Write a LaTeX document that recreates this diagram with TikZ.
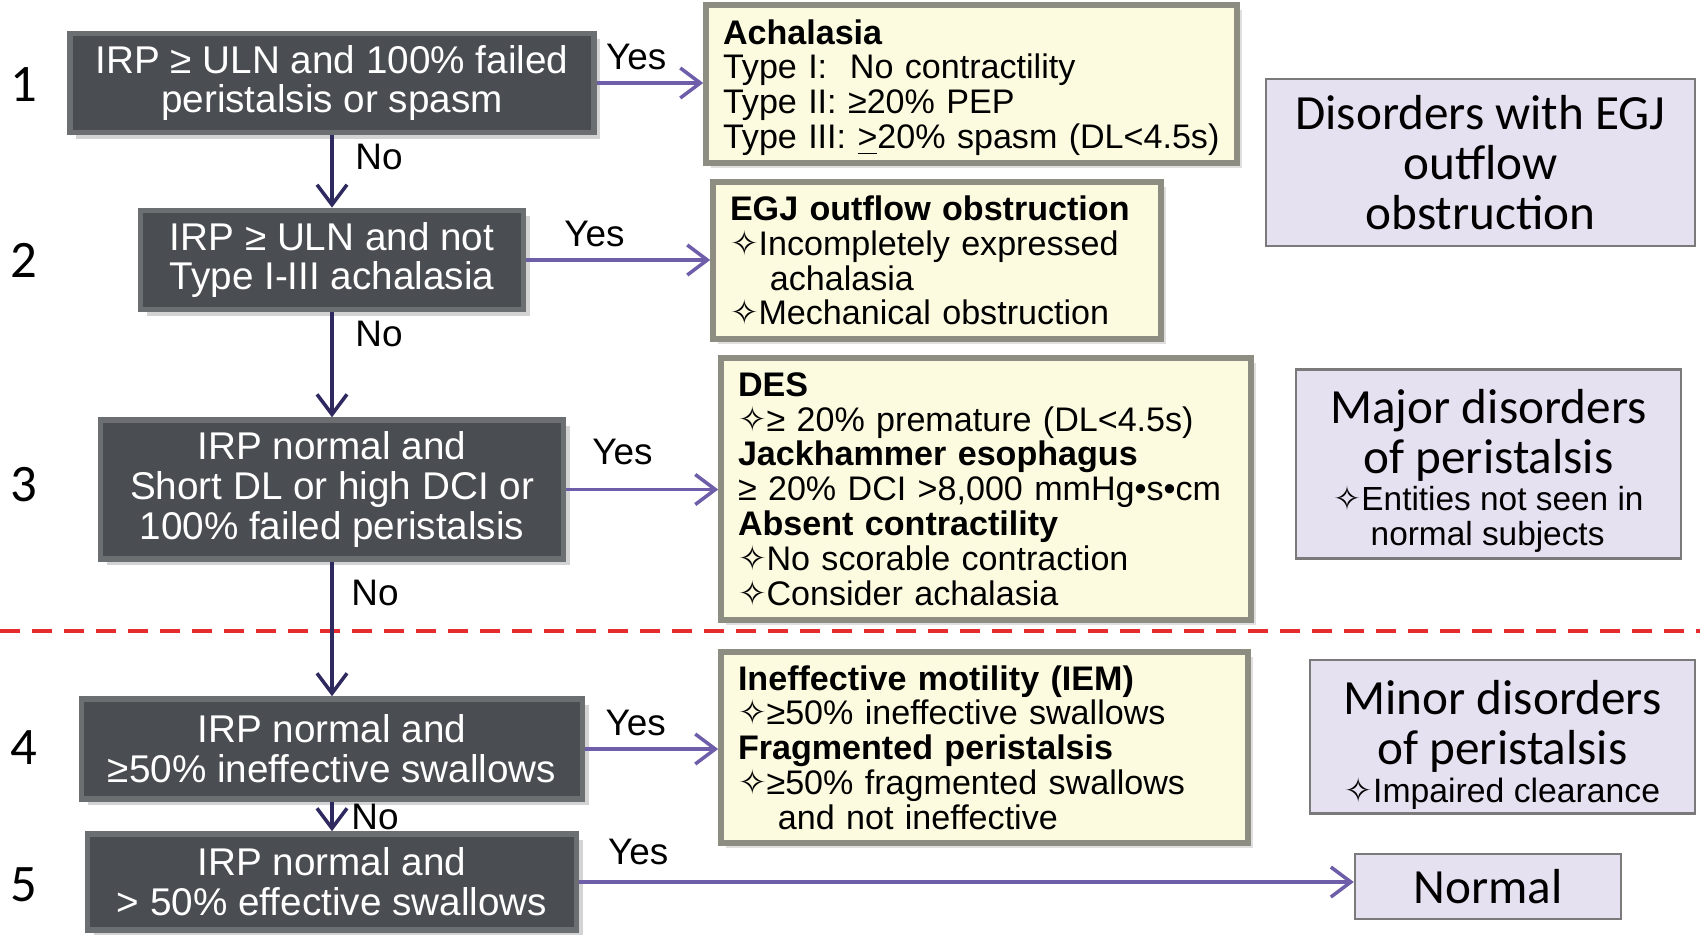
\documentclass[tikz,border=0pt]{standalone}
\usepackage{fontspec}
\setmainfont{Liberation Sans}
\newfontfamily\calfont{Carlito}
\newfontfamily\symfont{DejaVu Sans}
\usetikzlibrary{arrows.meta}
\usetikzlibrary{shadows}
\newcommand{\pointstar}{{\symfont ✧}}

\definecolor{boxgray}{HTML}{4A4D51}
\definecolor{boxedge}{HTML}{6C6F72}
\definecolor{cream}{HTML}{FCFADF}
\definecolor{creamedge}{HTML}{8E8D82}
\definecolor{lavender}{HTML}{E6E1F1}
\definecolor{classedge}{HTML}{7A7A7A}
\definecolor{yesline}{HTML}{6E5DA8}
\definecolor{noline}{HTML}{2E295E}
\definecolor{cutline}{HTML}{E52B2B}

\tikzset{
  condbox/.style={rectangle,fill=boxgray,draw=boxedge,line width=1.6pt,text=white,align=center,
    font=\fontsize{11}{11.3}\selectfont,drop shadow={opacity=0.35,shadow xshift=0.6mm,shadow yshift=-0.6mm}},
  resultbox/.style={rectangle,fill=cream,draw=creamedge,line width=1.6pt,align=left,inner xsep=0.17cm,
    font=\fontsize{9.7}{9.9}\selectfont,execute at begin node={\lineskiplimit=-5pt},
    drop shadow={opacity=0.25,shadow xshift=0.5mm,shadow yshift=-0.5mm}},
  classbox/.style={rectangle,fill=lavender,draw=classedge,line width=0.7pt,align=center,
    font=\calfont\fontsize{14}{14.2}\selectfont,execute at begin node={\lineskiplimit=-5pt}},
  yesarrow/.style={-{Straight Barb[length=2mm,width=3mm]},line width=1pt,yesline},
  noarrow/.style={-{Straight Barb[length=2mm,width=3mm]},line width=1pt,noline},
  lab/.style={text=black,font=\fontsize{10.5}{12}\selectfont},
  stepnum/.style={font=\calfont\fontsize{15}{15}\selectfont}
}

\begin{document}
\begin{tikzpicture}
\useasboundingbox (0,0) rectangle (17,-9.34);

\node[stepnum] (n1) at (0.24,-0.85) {1};
\node[stepnum] (n2) at (0.24,-2.60) {2};
\node[stepnum] (n3) at (0.24,-4.85) {3};
\node[stepnum] (n4) at (0.24,-7.48) {4};
\node[stepnum] (n5) at (0.24,-8.85) {5};

\node[condbox,minimum width=5.24cm,minimum height=0.94cm] (q1) at (3.32,-0.83) {IRP ≥ ULN and 100\% failed\\peristalsis or spasm};
\node[condbox,minimum width=3.83cm,minimum height=0.97cm] (q2) at (3.32,-2.60) {IRP ≥ ULN and not\\Type I-III achalasia};
\node[condbox,minimum width=4.63cm,minimum height=1.37cm] (q3) at (3.32,-4.895) {IRP normal and\\Short DL or high DCI or\\100\% failed peristalsis};
\node[condbox,minimum width=5.01cm,minimum height=1.00cm] (q4) at (3.32,-7.49) {IRP normal and\\≥50\% ineffective swallows};
\node[condbox,minimum width=4.89cm,minimum height=0.96cm] (q5) at (3.32,-8.82) {IRP normal and\\> 50\% effective swallows};

\node[resultbox,inner ysep=1pt,text width=4.97cm,minimum height=1.58cm] (achal) at (9.715,-0.84) {\rule{0pt}{9pt}\textbf{Achalasia}\\Type I:\ \ No contractility\\Type II: ≥20\% PEP\\Type III: \underline{>}20\% spasm (DL<4.5s)};
\node[resultbox,text width=4.14cm,minimum height=1.57cm] (egjoo) at (9.37,-2.605) {\textbf{EGJ outflow obstruction}\\\pointstar Incompletely expressed\\\phantom{\pointstar} achalasia\\\pointstar Mechanical obstruction};
\node[resultbox,text width=4.96cm,minimum height=2.62cm] (des) at (9.86,-4.89) {\textbf{DES}\\\pointstar ≥ 20\% premature (DL<4.5s)\\\textbf{Jackhammer esophagus}\\≥ 20\% DCI >8,000 mmHg•s•cm\\\textbf{Absent contractility}\\\pointstar No scorable contraction\\\pointstar Consider achalasia};
\node[resultbox,text width=4.93cm,minimum height=1.91cm] (iem) at (9.845,-7.475) {\textbf{Ineffective motility (IEM)}\\\pointstar ≥50\% ineffective swallows\\\textbf{Fragmented peristalsis}\\\pointstar ≥50\% fragmented swallows\\\phantom{\pointstar} and not ineffective};

\node[classbox,minimum width=4.29cm,minimum height=1.67cm] (egjcat) at (14.805,-1.625) {Disorders with EGJ\\outflow\\obstruction};
\node[classbox,inner ysep=1pt,minimum width=3.85cm,minimum height=1.86cm] (majorcat) at (14.885,-4.64) {\rule{0pt}{14.5pt}Major disorders\\of peristalsis\\[-3.7pt]{\rmfamily\fontsize{9.5}{9.2}\selectfont\begin{tabular}[t]{@{}l@{}}\pointstar Entities not seen in\\\phantom{\pointstar} normal subjects\end{tabular}}};
\node[classbox,inner ysep=1pt,minimum width=3.85cm,minimum height=1.51cm] (minorcat) at (15.025,-7.365) {\rule{0pt}{14.5pt}Minor disorders\\of peristalsis\\[-3.2pt]{\rmfamily\fontsize{9.6}{11}\selectfont\pointstar Impaired clearance}};
\node[classbox,minimum width=2.66cm,minimum height=0.65cm] (normal) at (14.88,-8.865) {Normal};

\draw[cutline,line width=1pt,dash pattern=on 0.2cm off 0.12cm] (0,-6.31) -- (17,-6.31);

\draw[yesarrow] (q1.east) -- node[lab,above,pos=0.37] {Yes} (q1.east -| achal.west);
\draw[yesarrow] (q2.east) -- node[lab,above,pos=0.37] {Yes} (q2.east -| egjoo.west);
\draw[yesarrow] (q3.east) -- node[lab,above,pos=0.37,yshift=1.1mm] {Yes} (q3.east -| des.west);
\draw[yesarrow] (q4.east) -- node[lab,above,pos=0.38] {Yes} (q4.east -| iem.west);
\draw[yesarrow] (q5.east) -- node[lab,above,pos=0.076,yshift=0.4mm] {Yes} (q5.east -| normal.west);

\draw[noarrow] (q1) -- node[lab,right,pos=0.3,xshift=1mm] {No} (q2);
\draw[noarrow] (q2) -- node[lab,right,pos=0.21,xshift=1mm] {No} (q3);
\draw[noarrow] (q3) -- node[lab,right,pos=0.23,xshift=0.6mm] {No} (q4);
\draw[noarrow] (q4) -- node[lab,right,pos=0.5,xshift=0.6mm] {No} (q5);
\end{tikzpicture}
\end{document}
